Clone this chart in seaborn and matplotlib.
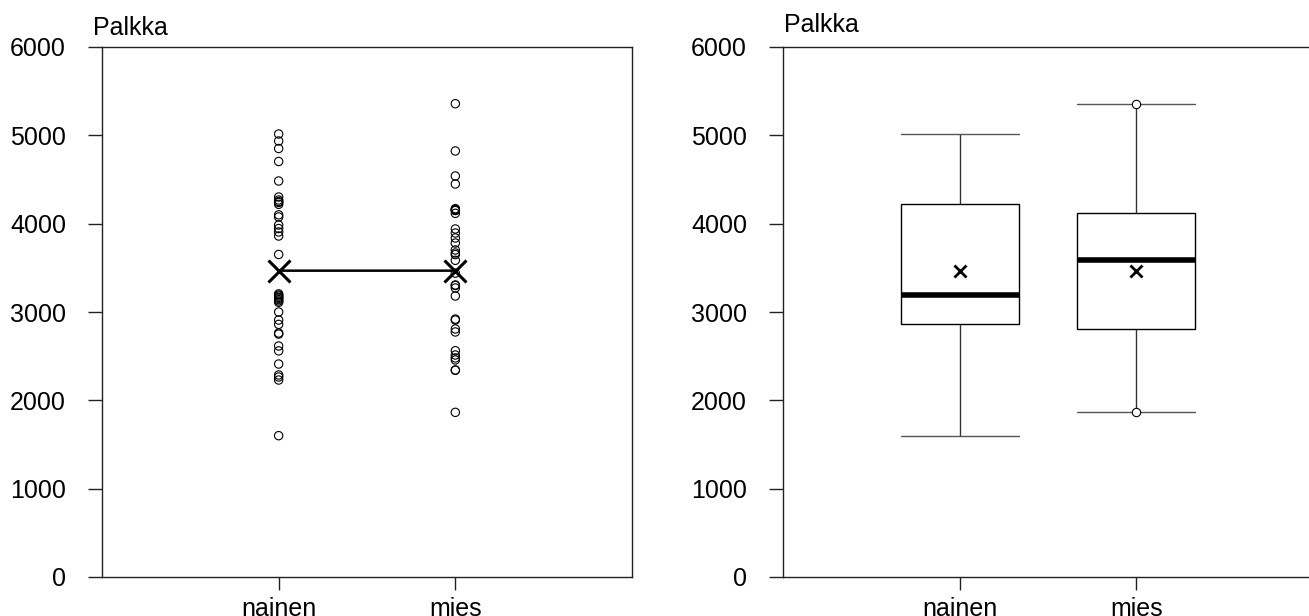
import matplotlib
matplotlib.use("Agg")
import matplotlib.pyplot as plt
import numpy as np
import pandas as pd
import seaborn as sns

# Salaries by gender
groups = ["nainen", "mies"]
palkka_nainen = [
    1600, 2230, 2264, 2287, 2411, 2560, 2615, 2750, 2762, 2860,
    2909, 3000, 3110, 3125, 3140, 3155, 3165, 3180, 3192, 3205,
    3651, 3860, 3906, 3945, 3985, 4076, 4100, 4219, 4240, 4250,
    4268, 4302, 4483, 4704, 4851, 4936, 5015,
]
palkka_mies = [
    1864, 2340, 2344, 2457, 2480, 2513, 2562, 2774, 2808, 2909,
    2920, 3181, 3272, 3300, 3306, 3440, 3585, 3650, 3668, 3702,
    3781, 3838, 3894, 3940, 4117, 4150, 4150, 4160, 4170, 4449,
    4540, 4823, 5358,
]
y_ticks = [0, 1000, 2000, 3000, 4000, 5000, 6000]
y_title = "Palkka"

df = pd.DataFrame({
    "sukupuoli": ["nainen"] * len(palkka_nainen) + ["mies"] * len(palkka_mies),
    "palkka": palkka_nainen + palkka_mies,
})

sns.set_style("ticks")
plt.rcParams["font.family"] = ["Liberation Sans", "DejaVu Sans"]
plt.rcParams["font.size"] = 18
for key in ("text.color", "axes.labelcolor", "xtick.color", "ytick.color",
            "axes.edgecolor"):
    plt.rcParams[key] = "black"

W, H = 1309, 616
fig = plt.figure(figsize=(W / 100, H / 100), dpi=100)
ax1 = fig.add_axes([102 / W, 39 / H, 530 / W, 530 / H])
ax2 = fig.add_axes([783 / W, 39 / H, 530 / W, 530 / H])

# Left: individual salaries with group means joined by a line
sns.stripplot(data=df, x="sukupuoli", y="palkka", order=groups, jitter=False,
              size=6, color="black", edgecolor="black", linewidth=0.8, ax=ax1)
for coll in ax1.collections:
    coll.set_facecolor("none")
sns.pointplot(data=df, x="sukupuoli", y="palkka", order=groups,
              estimator="mean", errorbar=None, color="black", markers="x",
              markersize=16, markeredgewidth=2.2, linewidth=1.8, ax=ax1)

# Right: box plot with means
sns.boxplot(data=df, x="sukupuoli", y="palkka", order=groups, width=0.667,
            color="white", linecolor="black", linewidth=1, showfliers=False,
            showmeans=True,
            meanprops=dict(marker="x", markeredgecolor="black",
                           markerfacecolor="black", markersize=9,
                           markeredgewidth=2),
            medianprops=dict(linewidth=4, color="black"),
            whiskerprops=dict(color="#333333"),
            capprops=dict(color="#555555"),
            capwidths=0.667, ax=ax2)
mies = df.loc[df["sukupuoli"] == "mies", "palkka"]
ends = [mies.min(), mies.max()]
sns.stripplot(x=["mies"] * 2, y=ends, order=groups, jitter=False, size=6,
              color="white", edgecolor="black", linewidth=0.8, ax=ax2, zorder=5)

for ax, tx, ty in ((ax1, -0.017, 1.036), (ax2, 0.002, 1.042)):
    ax.set_xlim(-1, 2)
    ax.set_ylim(0, 6000)
    ax.set_yticks(y_ticks)
    ax.set_xlabel("")
    ax.set_ylabel("")
    for side in ("left", "right", "top", "bottom"):
        ax.spines[side].set_visible(True)
        ax.spines[side].set_color("#222222")
        ax.spines[side].set_linewidth(1.0)
    ax.tick_params(axis="y", length=10, width=1, pad=16, labelsize=18,
                   color="#222222", labelcolor="black")
    ax.tick_params(axis="x", length=9.5, width=1, pad=5, labelsize=18,
                   color="#222222", labelcolor="black")
    ax.text(tx, ty, y_title, transform=ax.transAxes, ha="left", va="center",
            fontsize=18, color="black")

fig.savefig("out.png", dpi=100)
